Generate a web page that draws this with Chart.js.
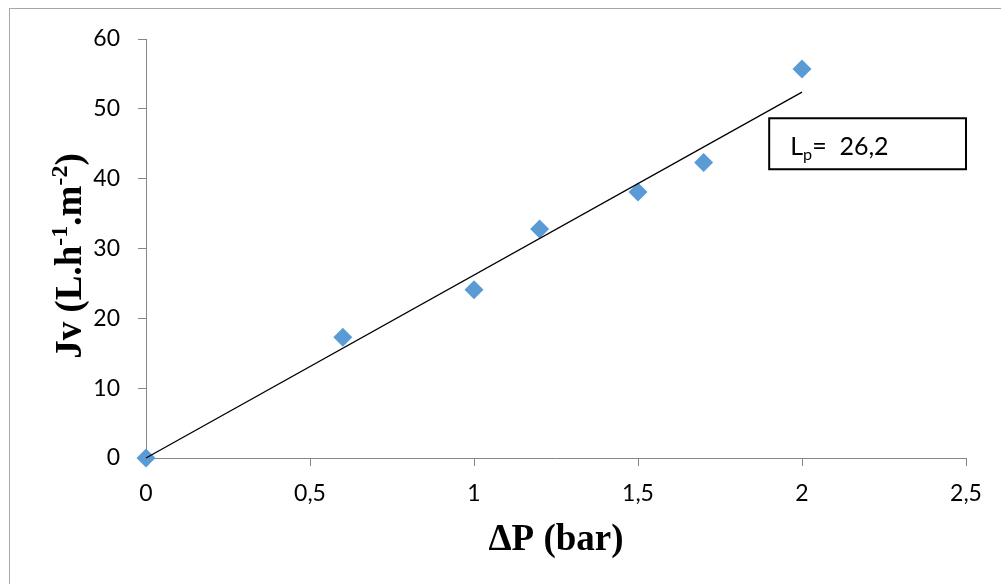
<!DOCTYPE html>
<html>
<head>
<title>Jv vs ΔP</title>
<script src="https://cdn.jsdelivr.net/npm/chart.js"></script>
<style>
  html, body { margin: 0; padding: 0; background: #fff; overflow: hidden; }
  #wrap { position: relative; width: 1001px; height: 584px; overflow: hidden; }
  #frame { position: absolute; left: 9px; top: 8px; width: 1200px; height: 800px; border: 1px solid #a6a6a6; }
  canvas { position: absolute; left: 0; top: 0; }
</style>
</head>
<body>
<div id="wrap">
  <div id="frame"></div>
  <canvas id="fluxChart" width="1001" height="584"></canvas>
</div>
<script>
// measured points (ΔP in bar, Jv in L.h-1.m-2)
const pressure = [0, 0.6, 1.0, 1.2, 1.5, 1.7, 2.0];
const flux = [0, 17.3, 24.1, 32.8, 38.1, 42.3, 55.7];

// linear trendline ends
const trendX = [0, 2.0];
const trendY = [0, 52.4];

const xTickLabels = ['0', '0,5', '1', '1,5', '2', '2,5'];
const yTickLabels = ['0', '10', '20', '30', '40', '50', '60'];

const xTitle = 'ΔP (bar)';
const yTitleParts = [['Jv (L.h', 0], ['-1', 1], ['.m', 0], ['-2', 1], [')', 0]];
const lpParts = [['L', 0], ['p', -1], ['=  26,2', 0]];
// box corners in data units: [x1, y1, x2, y2]
const lpBox = [1.9, 48.65, 2.5, 41.35];

const tickFont = { family: 'Lato', size: 23 };
const axisGrey = '#868686';

function drawParts(ctx, parts, size, family, weight) {
  let total = 0;
  parts.forEach(p => {
    ctx.font = weight + ' ' + (p[1] ? size * 0.65 : size) + 'px ' + family;
    total += ctx.measureText(p[0]).width;
  });
  return total;
}

const textPlugin = {
  id: 'texts',
  afterDraw(chart) {
    const ctx = chart.ctx;
    const xs = chart.scales.x, ys = chart.scales.y;
    ctx.save();
    ctx.fillStyle = '#000';

    // x title
    ctx.font = 'bold 37px "Liberation Serif"';
    ctx.textAlign = 'center';
    ctx.textBaseline = 'alphabetic';
    ctx.fillText(xTitle, (xs.left + xs.right) / 2, 550);

    // y title, rotated, with superscripts
    const ySize = 37;
    ctx.translate(81, 256);
    ctx.rotate(-Math.PI / 2);
    ctx.textAlign = 'left';
    let pos = -drawParts(ctx, yTitleParts, ySize, '"Liberation Serif"', 'bold') / 2;
    yTitleParts.forEach(p => {
      ctx.font = 'bold ' + (p[1] ? ySize * 0.65 : ySize) + 'px "Liberation Serif"';
      ctx.fillText(p[0], pos, p[1] ? -ySize * 0.38 : 0);
      pos += ctx.measureText(p[0]).width;
    });
    ctx.restore();

    // Lp box
    ctx.save();
    const bx1 = xs.getPixelForValue(lpBox[0]), by1 = ys.getPixelForValue(lpBox[1]);
    const bx2 = xs.getPixelForValue(lpBox[2]), by2 = ys.getPixelForValue(lpBox[3]);
    ctx.strokeStyle = '#000';
    ctx.lineWidth = 2;
    ctx.strokeRect(bx1, by1, bx2 - bx1, by2 - by1);
    ctx.fillStyle = '#000';
    ctx.textBaseline = 'alphabetic';
    const lpSize = 25;
    let lx = bx1 + 21;
    const base = by2 - 14.5;
    lpParts.forEach(p => {
      ctx.font = (p[1] ? lpSize * 0.65 : lpSize) + 'px Lato';
      ctx.fillText(p[0], lx, p[1] < 0 ? base + lpSize * 0.22 : base);
      lx += ctx.measureText(p[0]).width;
    });
    ctx.restore();
  }
};

const ctx = document.getElementById('fluxChart').getContext('2d');
new Chart(ctx, {
  type: 'scatter',
  data: {
    datasets: [{
      label: 'Jv',
      data: pressure.map((p, i) => ({ x: p, y: flux[i] })),
      pointStyle: 'rectRot',
      pointRadius: 9.5,
      pointBorderWidth: 0,
      backgroundColor: '#5B9BD5',
      borderColor: '#5B9BD5',
      order: 2
    }, {
      type: 'line',
      label: 'Trend',
      data: trendX.map((p, i) => ({ x: p, y: trendY[i] })),
      borderColor: '#000',
      borderWidth: 1.3,
      pointRadius: 0,
      fill: false,
      order: 1
    }]
  },
  options: {
    responsive: false,
    animation: false,
    clip: false,
    layout: { padding: { left: 0, top: 39, right: 35, bottom: 0 } },
    plugins: { legend: { display: false }, tooltip: { enabled: false } },
    scales: {
      x: {
        type: 'linear',
        min: 0, max: 2.5,
        afterFit(scale) { scale.height = 126; },
        border: { color: axisGrey, width: 1 },
        grid: { drawOnChartArea: false, drawTicks: true, tickLength: 8, color: axisGrey },
        ticks: {
          stepSize: 0.5, padding: 14, color: '#000', font: tickFont,
          callback: (v, i) => xTickLabels[i]
        }
      },
      y: {
        min: 0, max: 60,
        afterFit(scale) { scale.width = 146; },
        border: { color: axisGrey, width: 1 },
        grid: { drawOnChartArea: false, drawTicks: true, tickLength: 8, color: axisGrey },
        ticks: {
          stepSize: 10, padding: 18, color: '#000', font: tickFont,
          callback: (v, i) => yTickLabels[i]
        }
      }
    }
  },
  plugins: [textPlugin]
});
</script>
</body>
</html>
